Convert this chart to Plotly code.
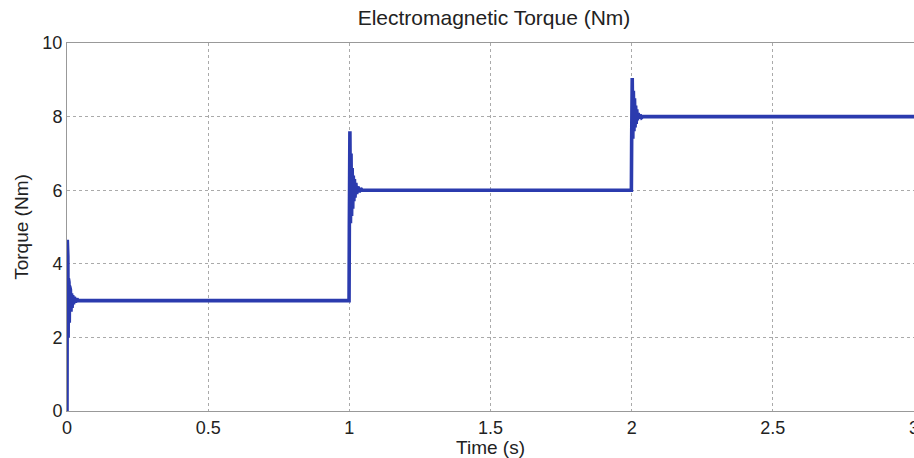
import plotly.graph_objects as go

# Transient / steady-state key points
t_seg0 = [0.0, 0.001, 0.002, 0.003, 0.004, 0.005, 0.006, 0.007, 0.008, 0.009, 0.010,
          0.012, 0.014, 0.016, 0.018, 0.020, 0.023, 0.026, 0.030, 0.035, 0.040]
T_seg0 = [0.0, 4.65, 1.9, 4.2, 2.0, 3.6, 2.2, 3.5, 2.4, 3.4, 2.6,
          3.3, 2.7, 3.2, 2.8, 3.15, 2.9, 3.1, 2.95, 3.05, 3.0]

t_seg1 = [0.999, 1.000, 1.002, 1.004, 1.006, 1.008, 1.010, 1.012, 1.014, 1.016, 1.018,
          1.020, 1.023, 1.026, 1.030, 1.035, 1.040, 1.045]
T_seg1 = [3.0, 5.0, 7.6, 5.1, 7.0, 5.3, 6.6, 5.5, 6.4, 5.7, 6.3,
          5.8, 6.2, 5.9, 6.1, 5.95, 6.05, 6.0]

t_seg2 = [1.999, 2.000, 2.002, 2.004, 2.006, 2.008, 2.010, 2.012, 2.014, 2.016, 2.018,
          2.020, 2.023, 2.026, 2.030, 2.035, 2.040, 3.0]
T_seg2 = [6.0, 7.4, 9.05, 7.4, 8.7, 7.6, 8.5, 7.7, 8.3, 7.8, 8.2,
          7.9, 8.1, 7.95, 8.05, 7.97, 8.0, 8.0]

time = t_seg0 + t_seg1 + t_seg2
torque = T_seg0 + T_seg1 + T_seg2

x_ticks = [0, 0.5, 1, 1.5, 2, 2.5, 3]
x_tick_labels = ["0", "0.5", "1", "1.5", "2", "2.5", "3"]
y_ticks = [0, 2, 4, 6, 8, 10]
y_tick_labels = ["0", "2", "4", "6", "8", "10"]

fig = go.Figure()
fig.add_trace(go.Scatter(
    x=time, y=torque, mode="lines",
    line=dict(color="#2b3bae", width=3.6),
    showlegend=False, cliponaxis=False,
))

font = "Liberation Sans, Arial, sans-serif"
fig.update_layout(
    width=914, height=458,
    margin=dict(l=67, r=0, t=43, b=47, autoexpand=False),
    paper_bgcolor="white", plot_bgcolor="white",
    font=dict(family=font, size=17, color="#222"),
    title=dict(text="Electromagnetic Torque (Nm)", x=494 / 914, xanchor="center",
               y=1 - 18 / 458, yanchor="middle", font=dict(size=21, color="#222")),
)
fig.update_xaxes(
    range=[0, 3], tickvals=x_ticks, ticktext=x_tick_labels,
    showgrid=True, gridcolor="#aaa", griddash="dot", gridwidth=1,
    showline=True, linecolor="#999", linewidth=1, mirror=True,
    zeroline=False, ticks="", ticklen=0, automargin=False,
    ticklabeloverflow="allow",
    title=dict(text="Time (s)", standoff=0, font=dict(size=19)),
    tickfont=dict(size=18),
)
fig.update_yaxes(
    range=[0, 10], tickvals=y_ticks, ticktext=y_tick_labels,
    showgrid=True, gridcolor="#aaa", griddash="dot", gridwidth=1,
    showline=True, linecolor="#999", linewidth=1, mirror=True,
    zeroline=False, ticks="", ticklen=0, automargin=False,
    ticklabeloverflow="allow",
    title=dict(text="Torque (Nm)", standoff=8, font=dict(size=19)),
    tickfont=dict(size=18),
)

fig.write_html(
    "out.html",
    config={"displayModeBar": False},
    post_script="document.body.style.margin='0';document.body.style.overflow='hidden';",
)
